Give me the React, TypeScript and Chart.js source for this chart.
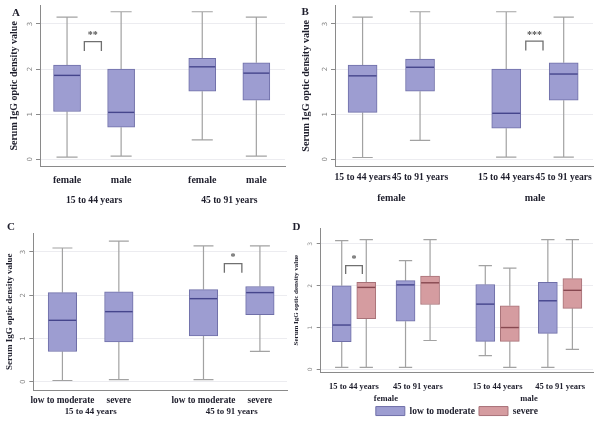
import React, { useEffect, useRef } from "react";
import { Chart, registerables } from "chart.js";

Chart.register(...registerables);

// ---------------- data ----------------
const yTickValues = [0, 1, 2, 3];
const yAxisTitle = "Serum IgG optic density value";

// Panel A: by age group, then sex
const aCategories = ["female", "male", "female", "male"];
const aGroups = ["15 to 44 years", "45 to 91 years"];
const aPositions = [1, 2, 3.5, 4.5];
const aGroupPositions = [1.5, 4];
const aLow = [0.05, 0.07, 0.43, 0.07];
const aQ1 = [1.06, 0.71, 1.51, 1.31];
const aMedian = [1.86, 1.04, 2.05, 1.91];
const aQ3 = [2.09, 2.0, 2.24, 2.14];
const aHigh = [3.15, 3.27, 3.27, 3.15];
const aBracketX = [1.32, 1.635];
const aBracketY = [2.4, 2.61];
const aBracketText = "**";

// Panel B: by sex, then age group
const bCategories = ["15 to 44 years", "45 to 91 years", "15 to 44 years", "45 to 91 years"];
const bGroups = ["female", "male"];
const bPositions = [1, 2, 3.5, 4.5];
const bGroupPositions = [1.5, 4];
const bLow = [0.04, 0.42, 0.05, 0.05];
const bQ1 = [1.04, 1.51, 0.69, 1.31];
const bMedian = [1.85, 2.04, 1.02, 1.89];
const bQ3 = [2.09, 2.22, 2.0, 2.14];
const bHigh = [3.15, 3.27, 3.27, 3.15];
const bBracketX = [3.84, 4.14];
const bBracketY = [2.41, 2.62];
const bBracketText = "***";

// Panel C: by age group, then severity
const cCategories = ["low to moderate", "severe", "low to moderate", "severe"];
const cGroups = ["15 to 44 years", "45 to 91 years"];
const cPositions = [1, 2, 3.5, 4.5];
const cGroupPositions = [1.5, 4];
const cLow = [0.03, 0.05, 0.05, 0.7];
const cQ1 = [0.7, 0.92, 1.06, 1.55];
const cMedian = [1.42, 1.62, 1.92, 2.06];
const cQ3 = [2.06, 2.08, 2.13, 2.2];
const cHigh = [3.09, 3.25, 3.14, 3.14];
const cBracketX = [3.87, 4.18];
const cBracketY = [2.52, 2.73];
const cBracketText = "*";

// Panel D: by sex, age group and severity
const dCategories = ["15 to 44 years", "45 to 91 years", "15 to 44 years", "45 to 91 years"];
const dGroups = ["female", "male"];
const dCategoryPositions = [1.5, 4.1, 7.35, 9.9];
const dGroupPositions = [2.8, 8.63];
const dSeriesNames = ["low to moderate", "severe"];
const dLowModPositions = [1, 3.6, 6.85, 9.4];
const dLowModLow = [0.05, 0.05, 0.33, 0.05];
const dLowModQ1 = [0.66, 1.15, 0.67, 0.86];
const dLowModMedian = [1.06, 2.02, 1.56, 1.64];
const dLowModQ3 = [2.0, 2.12, 2.03, 2.08];
const dLowModHigh = [3.08, 2.6, 2.48, 3.1];
const dSeverePositions = [2, 4.6, 7.85, 10.4];
const dSevereLow = [0.05, 0.69, 0.05, 0.48];
const dSevereQ1 = [1.21, 1.55, 0.67, 1.46];
const dSevereMedian = [1.96, 2.07, 1.0, 1.89];
const dSevereQ3 = [2.08, 2.23, 1.52, 2.17];
const dSevereHigh = [3.1, 3.1, 2.42, 3.1];
const dBracketX = [1.16, 1.84];
const dBracketY = [2.28, 2.48];
const dBracketText = "*";

// ---------------- styles ----------------
const SERIF = "'Liberation Serif', 'Times New Roman', serif";
const INK = "#1e1e2c";
const AXIS = "#8a8a8a";
const GRID = "#ececf0";
const WHISKER = "#a2a2a2";
const BLUE = { fill: "#9d9dd1", border: "#6f6fa8", median: "#45458c" };
const RED = { fill: "#d59ca0", border: "#a87278", median: "#874850" };

type Series = {
  label: string;
  positions: number[];
  low: number[];
  q1: number[];
  median: number[];
  q3: number[];
  high: number[];
  color: { fill: string; border: string; median: string };
};

type Spec = {
  left: number; top: number; width: number; height: number;
  axisLeft: number; plotTop: number; plotRight: number; axisBottom: number;
  xMin: number; xMax: number; yMin: number; yMax: number;
  categories: string[]; categoryPositions: number[];
  groups: string[]; groupPositions: number[];
  series: Series[];
  bracketX: number[]; bracketY: number[]; bracketText: string;
  boxWidth: number; capRatio: number;
  titleSize: number; titlePad: number;
  catSize: number; catOffset: number; catHeight: number;
  groupSize: number; groupOffset: number; groupHeight: number;
  tickFont: number;
  legend?: { maxHeight: number; size: number; padding: number };
};

const specA: Spec = {
  left: 0, top: 0, width: 300, height: 210,
  axisLeft: 40, plotTop: 5, plotRight: 285, axisBottom: 166.7,
  xMin: 0.5, xMax: 5.03, yMin: -0.164, yMax: 3.42,
  categories: aCategories, categoryPositions: aPositions,
  groups: aGroups, groupPositions: aGroupPositions,
  series: [{ label: "A", positions: aPositions, low: aLow, q1: aQ1, median: aMedian, q3: aQ3, high: aHigh, color: BLUE }],
  bracketX: aBracketX, bracketY: aBracketY, bracketText: aBracketText,
  boxWidth: 27, capRatio: 0.78,
  titleSize: 10, titlePad: 8.7,
  catSize: 10, catOffset: 7.3, catHeight: 22,
  groupSize: 9.6, groupOffset: 6.5, groupHeight: 21.3,
  tickFont: 7,
};

const specB: Spec = {
  left: 300, top: 0, width: 300, height: 210,
  axisLeft: 335, plotTop: 5, plotRight: 593, axisBottom: 166.7,
  xMin: 0.52, xMax: 5.01, yMin: -0.164, yMax: 3.42,
  categories: bCategories, categoryPositions: bPositions,
  groups: bGroups, groupPositions: bGroupPositions,
  series: [{ label: "B", positions: bPositions, low: bLow, q1: bQ1, median: bMedian, q3: bQ3, high: bHigh, color: BLUE }],
  bracketX: bBracketX, bracketY: bBracketY, bracketText: bBracketText,
  boxWidth: 29, capRatio: 0.7,
  titleSize: 10.2, titlePad: 0,
  catSize: 9.6, catOffset: 5.5, catHeight: 20,
  groupSize: 10, groupOffset: 5.3, groupHeight: 23.3,
  tickFont: 7,
};

const specC: Spec = {
  left: 0, top: 210, width: 300, height: 215,
  axisLeft: 33.3, plotTop: 233.3, plotRight: 287, axisBottom: 390,
  xMin: 0.484, xMax: 4.98, yMin: -0.19, yMax: 3.43,
  categories: cCategories, categoryPositions: cPositions,
  groups: cGroups, groupPositions: cGroupPositions,
  series: [{ label: "C", positions: cPositions, low: cLow, q1: cQ1, median: cMedian, q3: cQ3, high: cHigh, color: BLUE }],
  bracketX: cBracketX, bracketY: cBracketY, bracketText: cBracketText,
  boxWidth: 28.5, capRatio: 0.7,
  titleSize: 9, titlePad: 4.6,
  catSize: 9.3, catOffset: 5.1, catHeight: 15,
  groupSize: 8.9, groupOffset: 1.35, groupHeight: 20,
  tickFont: 7,
};

const specD: Spec = {
  left: 290, top: 210, width: 310, height: 215,
  axisLeft: 320.7, plotTop: 228, plotRight: 593, axisBottom: 372.3,
  xMin: 0.143, xMax: 11.24, yMin: -0.07, yMax: 3.38,
  categories: dCategories, categoryPositions: dCategoryPositions,
  groups: dGroups, groupPositions: dGroupPositions,
  series: [
    { label: dSeriesNames[0], positions: dLowModPositions, low: dLowModLow, q1: dLowModQ1, median: dLowModMedian, q3: dLowModQ3, high: dLowModHigh, color: BLUE },
    { label: dSeriesNames[1], positions: dSeverePositions, low: dSevereLow, q1: dSevereQ1, median: dSevereMedian, q3: dSevereQ3, high: dSevereHigh, color: RED },
  ],
  bracketX: dBracketX, bracketY: dBracketY, bracketText: dBracketText,
  boxWidth: 19, capRatio: 0.7,
  titleSize: 7, titlePad: 1.8,
  catSize: 8.5, catOffset: 9.3, catHeight: 20,
  groupSize: 8.5, groupOffset: 0.9, groupHeight: 10,
  tickFont: 6,
  legend: { maxHeight: 22.7, size: 9.5, padding: 4 },
};

function makePlugin(spec: Spec) {
  return {
    id: "boxWhiskers",
    beforeDatasetsDraw(chart: any) {
      const ctx = chart.ctx;
      const ys = chart.scales.y;
      ctx.save();
      ctx.strokeStyle = WHISKER;
      ctx.lineWidth = 1.2;
      spec.series.forEach((s, di) => {
        const meta = chart.getDatasetMeta(di);
        meta.data.forEach((el: any, j: number) => {
          const cx = el.x;
          const half = (el.width * spec.capRatio) / 2;
          const pairs = [
            [s.q3[j], s.high[j]],
            [s.q1[j], s.low[j]],
          ];
          for (const [from, to] of pairs) {
            const y1 = ys.getPixelForValue(from);
            const y2 = ys.getPixelForValue(to);
            ctx.beginPath();
            ctx.moveTo(cx, y1);
            ctx.lineTo(cx, y2);
            ctx.moveTo(cx - half, y2);
            ctx.lineTo(cx + half, y2);
            ctx.stroke();
          }
        });
      });
      ctx.restore();
    },
    afterDatasetsDraw(chart: any) {
      const ctx = chart.ctx;
      const ys = chart.scales.y;
      const xs = chart.scales.x;
      ctx.save();
      // medians
      spec.series.forEach((s, di) => {
        const meta = chart.getDatasetMeta(di);
        ctx.strokeStyle = s.color.median;
        ctx.lineWidth = 1.4;
        meta.data.forEach((el: any, j: number) => {
          const y = ys.getPixelForValue(s.median[j]);
          ctx.beginPath();
          ctx.moveTo(el.x - el.width / 2 + 0.5, y);
          ctx.lineTo(el.x + el.width / 2 - 0.5, y);
          ctx.stroke();
        });
      });
      // significance bracket
      const bx1 = xs.getPixelForValue(spec.bracketX[0]);
      const bx2 = xs.getPixelForValue(spec.bracketX[1]);
      const byBottom = ys.getPixelForValue(spec.bracketY[0]);
      const byTop = ys.getPixelForValue(spec.bracketY[1]);
      ctx.strokeStyle = "#707070";
      ctx.lineWidth = 1.3;
      ctx.beginPath();
      ctx.moveTo(bx1, byBottom);
      ctx.lineTo(bx1, byTop);
      ctx.lineTo(bx2, byTop);
      ctx.lineTo(bx2, byBottom);
      ctx.stroke();
      ctx.fillStyle = "#555";
      ctx.font = `bold 10px ${SERIF}`;
      ctx.textAlign = "center";
      ctx.textBaseline = "bottom";
      ctx.fillText(spec.bracketText, (bx1 + bx2) / 2, byTop - 1);
      // rotated y tick labels
      ctx.fillStyle = "#858585";
      ctx.font = `${spec.tickFont}px 'DejaVu Sans', sans-serif`;
      ctx.textAlign = "center";
      ctx.textBaseline = "middle";
      const lx = chart.chartArea.left - 10;
      yTickValues.forEach((v) => {
        const y = ys.getPixelForValue(v);
        ctx.save();
        ctx.translate(lx, y);
        ctx.rotate(-Math.PI / 2);
        ctx.fillText(String(v), 0, 0);
        ctx.restore();
      });
      ctx.restore();
    },
  };
}

function Panel({ spec }: { spec: Spec }) {
  const ref = useRef<HTMLCanvasElement | null>(null);
  useEffect(() => {
    if (!ref.current) return;
    const datasets = spec.series.map((s) => ({
      label: s.label,
      data: s.positions.map((p, j) => ({ x: p, y: [s.q1[j], s.q3[j]] })),
      backgroundColor: s.color.fill,
      borderColor: s.color.border,
      borderWidth: 1,
      borderSkipped: false,
      grouped: false,
      barPercentage: 1,
      categoryPercentage: 1,
      maxBarThickness: spec.boxWidth,
    }));
    const legendOpts = spec.legend
      ? {
          display: true,
          position: "bottom",
          fullSize: false,
          maxHeight: spec.legend.maxHeight,
          labels: {
            boxWidth: 29,
            boxHeight: 9,
            padding: spec.legend.padding,
            color: INK,
            font: { family: SERIF, weight: "bold", size: spec.legend.size },
          },
        }
      : { display: false };
    const chart = new Chart(ref.current, {
      type: "bar",
      data: { datasets } as any,
      options: {
        animation: false,
        responsive: false,
        maintainAspectRatio: false,
        events: [],
        layout: {
          padding: {
            left: 0,
            top: spec.plotTop - spec.top,
            right: spec.left + spec.width - spec.plotRight,
            bottom: 0,
          },
        },
        plugins: { legend: legendOpts as any, tooltip: { enabled: false } },
        scales: {
          x: {
            type: "linear",
            position: "bottom",
            weight: 0,
            min: spec.xMin,
            max: spec.xMax,
            offset: false,
            grid: { display: false, drawTicks: true, tickLength: spec.catOffset },
            border: { display: true, color: AXIS, width: 1 },
            ticks: {
              padding: 0,
              autoSkip: false,
              maxRotation: 0,
              minRotation: 0,
              color: INK,
              font: { family: SERIF, weight: "bold", size: spec.catSize },
              callback: (_v: any, i: number) => spec.categories[i],
            },
            afterBuildTicks: (s: any) => {
              s.ticks = spec.categoryPositions.map((v) => ({ value: v }));
            },
            afterFit: (s: any) => {
              s.height = spec.catHeight;
            },
          },
          x2: {
            type: "linear",
            position: "bottom",
            weight: 1,
            min: spec.xMin,
            max: spec.xMax,
            offset: false,
            grid: { display: false, drawTicks: true, tickLength: spec.groupOffset },
            border: { display: false },
            ticks: {
              padding: 0,
              autoSkip: false,
              maxRotation: 0,
              minRotation: 0,
              color: INK,
              font: { family: SERIF, weight: "bold", size: spec.groupSize },
              callback: (_v: any, i: number) => spec.groups[i],
            },
            afterBuildTicks: (s: any) => {
              s.ticks = spec.groupPositions.map((v) => ({ value: v }));
            },
            afterFit: (s: any) => {
              s.height = spec.groupHeight;
            },
          },
          y: {
            type: "linear",
            position: "left",
            min: spec.yMin,
            max: spec.yMax,
            grid: { color: GRID, lineWidth: 1, drawTicks: true, tickLength: 4, tickColor: AXIS },
            border: { display: true, color: AXIS, width: 1 },
            ticks: { display: false },
            title: {
              display: true,
              text: yAxisTitle,
              color: INK,
              font: { family: SERIF, weight: "bold", size: spec.titleSize },
              padding: { top: spec.titlePad, bottom: 0 },
            },
            afterBuildTicks: (s: any) => {
              s.ticks = yTickValues.map((v) => ({ value: v }));
            },
            afterFit: (s: any) => {
              s.width = spec.axisLeft - spec.left;
            },
          },
        } as any,
      },
      plugins: [makePlugin(spec)],
    } as any);
    return () => chart.destroy();
  }, [spec]);
  return (
    <canvas
      ref={ref}
      width={spec.width}
      height={spec.height}
      style={{ position: "absolute", left: spec.left, top: spec.top, width: spec.width, height: spec.height }}
    />
  );
}

const letterStyle = (left: number, top: number): React.CSSProperties => ({
  position: "absolute",
  left,
  top,
  font: `bold 11px ${SERIF}`,
  lineHeight: "11px",
  color: INK,
});

export default function App() {
  return (
    <div
      style={{
        position: "absolute",
        left: 0,
        top: 0,
        width: 600,
        height: 425,
        background: "#fff",
        overflow: "hidden",
      }}
    >
      <Panel spec={specA} />
      <Panel spec={specB} />
      <Panel spec={specC} />
      <Panel spec={specD} />
      <div style={letterStyle(12, 7)}>A</div>
      <div style={letterStyle(301.5, 6)}>B</div>
      <div style={letterStyle(7, 221)}>C</div>
      <div style={letterStyle(292.5, 221)}>D</div>
    </div>
  );
}
